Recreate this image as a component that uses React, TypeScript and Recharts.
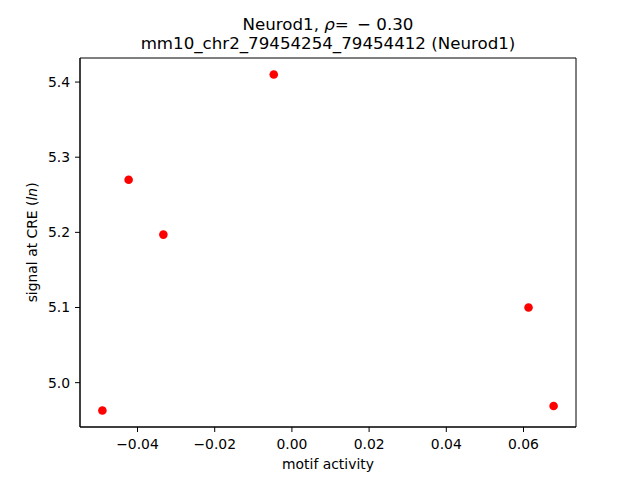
import React from "react";
import {
  ScatterChart,
  Scatter,
  XAxis,
  YAxis,
  ReferenceArea,
} from "recharts";

// motif activity (x) vs signal at CRE (y), one entry per sample
const motifActivity = [-0.0491, -0.0423, -0.0333, -0.0047, 0.0613, 0.0678];
const creSignal = [4.963, 5.27, 5.197, 5.41, 5.1, 4.969];

const xTicks = [-0.04, -0.02, 0, 0.02, 0.04, 0.06];
const yTicks = [5.0, 5.1, 5.2, 5.3, 5.4];
const xDomain: [number, number] = [-0.0549, 0.0736];
const yDomain: [number, number] = [4.941, 5.432];

const titleLine2 = "mm10_chr2_79454254_79454412 (Neurod1)";

const points = motifActivity.map((x, i) => ({ x, y: creSignal[i] }));

const FONT = "'DejaVu Sans', sans-serif";
const minus = (s: string) => s.replace("-", "\u2212");

const Dot = (props: any) => (
  <circle cx={props.cx} cy={props.cy} r={4.3} fill="#ff0000" />
);

export default function App() {
  return (
    <div style={{ position: "absolute", left: 0, top: 0, width: 640, height: 480, background: "#fff", fontFamily: FONT }}>
      <div style={{ position: "absolute", left: 80, width: 496, top: 15, textAlign: "center", fontSize: 16.67, lineHeight: "19px", color: "#000" }}>
        <div>
          Neurod1, <i>ρ</i>={"\u2002"}− 0.30
        </div>
        <div>{titleLine2}</div>
      </div>
      <ScatterChart
        width={640}
        height={480}
        margin={{ top: 58, right: 64, bottom: 23, left: 0 }}
        style={{ fontFamily: FONT }}
      >
        <XAxis
          type="number"
          dataKey="x"
          domain={xDomain}
          ticks={xTicks}
          allowDataOverflow
          height={30}
          tickSize={5}
          tickMargin={7}
          stroke="#000"
          tick={{ fill: "#000", fontSize: 13.9 }}
          tickFormatter={(v: number) => minus(v.toFixed(2))}
          label={{
            content: () => (
              <text x={328} y={469} textAnchor="middle" fontSize={13.9} fill="#000" fontFamily={FONT}>
                motif activity
              </text>
            ),
          }}
        />
        <YAxis
          type="number"
          dataKey="y"
          domain={yDomain}
          ticks={yTicks}
          allowDataOverflow
          width={80}
          tickSize={5}
          tickMargin={5}
          stroke="#000"
          tick={{ fill: "#000", fontSize: 13.9 }}
          tickFormatter={(v: number) => v.toFixed(1)}
          label={{
            content: () => (
              <text
                x={37.5}
                y={242.4}
                transform="rotate(-90, 37.5, 242.4)"
                textAnchor="middle"
                fontSize={13.9}
                fill="#000"
                fontFamily={FONT}
              >
                signal at CRE (<tspan fontStyle="italic">ln</tspan>)
              </text>
            ),
          }}
        />
        <ReferenceArea
          x1={xDomain[0]}
          x2={xDomain[1]}
          y1={yDomain[0]}
          y2={yDomain[1]}
          fill="none"
          stroke="#000"
          strokeWidth={1}
          fillOpacity={0}
        />
        <Scatter data={points} shape={Dot} isAnimationActive={false} />
      </ScatterChart>
    </div>
  );
}
